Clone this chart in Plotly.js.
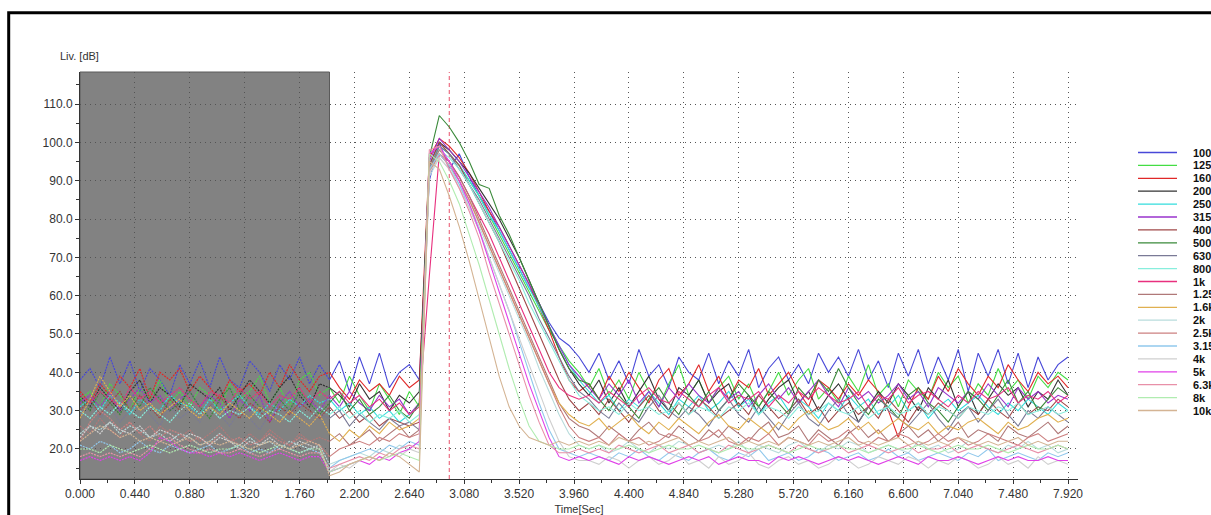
<!DOCTYPE html>
<html><head><meta charset="utf-8">
<script src="https://cdn.plot.ly/plotly-3.0.1.min.js"></script>
<style>html,body{margin:0;padding:0;background:#fff;overflow:hidden}#chart{width:1211px;height:515px}</style>
</head><body><div id="chart"></div>
<script>
const time = [0,0.08,0.16,0.24,0.32,0.40,0.48,0.56,0.64,0.72,0.80,0.88,0.96,1.04,1.12,1.20,1.28,1.36,1.44,1.52,1.60,1.68,1.76,1.84,1.92,
2.00,2.08,2.16,2.24,2.32,2.40,2.48,2.56,2.64,2.72,
2.80,2.88,2.96,3.04,3.12,3.20,3.28,3.36,3.44,3.52,3.60,3.68,3.76,3.84,3.92,4.00,
4.08,4.16,4.24,4.32,4.40,4.48,4.56,4.64,4.72,4.80,4.88,4.96,5.04,5.12,5.20,5.28,5.36,5.44,5.52,5.60,5.68,5.76,5.84,5.92,6.00,
6.08,6.16,6.24,6.32,6.40,6.48,6.56,6.64,6.72,6.80,6.88,6.96,7.04,7.12,7.20,7.28,7.36,7.44,7.52,7.60,7.68,7.76,7.84,7.92];

const bands = ["100","125","160","200","250","315","400","500","630","800","1k","1.25k","1.6k","2k","2.5k","3.15k","4k","5k","6.3k","8k","10k"];

const s100 = [38,41,36,44,37,43,35,41,38,34,42,37,43,36,44,38,36,43,40,35,42,38,44,37,42,
38,43,35,44,37,45,36,40,42,38,
90,100,93,97,91,86,82,77,72,67,62,58,53,49,47,44,
40,45,38,43,37,46,39,42,36,44,40,38,45,37,43,39,46,36,41,44,38,42,37,45,40,44,39,46,38,43,36,45,39,46,37,44,38,46,35,45,39,46,37,45,36,44,38,42,44];
const s125 = [33,35,31,37,34,30,36,33,38,32,35,31,36,34,30,37,33,35,39,32,36,31,38,40,34,
36,32,39,34,30,37,33,29,35,31,
93,99,97,94,90,86,81,76,71,66,61,56,51,47,43,40,
36,41,34,38,33,40,35,31,37,42,34,38,32,36,39,33,37,31,35,40,34,38,41,33,36,32,39,35,42,34,37,31,38,35,33,40,36,39,32,37,34,41,35,38,33,39,36,40,38];
const s160 = [35,32,37,34,39,36,41,33,40,38,41,35,39,36,33,38,35,37,34,40,36,42,38,35,39,
40,36,33,38,35,37,34,39,36,38,
96,101,99,96,92,87,82,78,73,68,63,57,51,44,38,35,
37,33,39,35,40,36,32,38,41,34,37,42,35,39,33,38,36,41,34,37,40,35,31,38,36,33,37,34,38,35,30,23,31,36,33,39,35,41,37,34,39,36,42,38,35,40,37,39,36];
const s200 = [34,31,36,33,30,35,38,32,36,34,31,37,35,33,36,30,34,38,35,32,36,39,34,31,37,
36,34,31,37,33,35,30,34,32,35,
94,100,98,95,92,88,84,80,75,70,64,58,52,46,41,37,
34,38,32,36,31,35,39,33,30,36,34,38,32,35,37,31,34,29,33,36,38,32,35,30,34,37,33,27,31,35,32,37,34,30,36,33,38,31,35,29,33,37,34,36,31,35,33,38,34];
const s250 = [31,33,30,34,32,29,33,31,30,34,32,31,29,33,30,32,34,31,29,32,30,33,31,34,32,
33,30,32,29,31,28,30,27,29,31,
93,99,97,94,90,86,81,77,72,67,62,57,52,47,42,38,
35,32,34,30,33,31,35,32,29,33,31,34,30,32,35,31,33,29,32,34,30,33,31,28,32,30,34,31,33,29,31,34,30,32,28,31,33,30,32,34,31,29,32,30,33,31,29,32,30];
const s315 = [32,34,31,35,30,33,36,32,34,30,33,35,31,34,32,28,33,30,34,27,32,35,31,33,30,
34,31,35,32,30,34,31,33,29,32,
95,101,98,95,91,87,83,78,73,68,63,58,52,47,42,39,
36,33,37,34,38,32,35,31,36,33,37,34,32,36,33,35,31,34,37,33,36,32,35,38,34,31,36,33,35,32,34,37,33,35,31,36,34,32,35,33,37,34,31,36,33,35,32,34,33];
const s400 = [30,33,29,32,35,30,34,31,28,33,30,32,29,31,34,30,28,32,30,27,31,29,32,30,28,
31,28,30,27,29,26,28,27,26,27,
94,100,97,94,89,84,79,74,68,62,56,50,44,38,33,30,
32,29,33,30,27,31,34,30,28,32,29,33,31,28,30,32,29,34,31,28,30,33,29,31,27,30,32,29,31,28,33,30,27,31,29,32,30,28,31,29,33,30,28,32,29,31,30,33,31];
const s500 = [33,30,35,32,29,34,31,36,33,30,32,35,31,28,33,36,30,34,31,29,33,30,35,32,29,
32,35,30,33,29,31,34,30,28,32,
96,107,104,100,95,89,88,81,76,70,64,58,52,46,41,38,
37,33,30,34,31,28,33,36,32,29,34,31,35,30,33,37,34,31,35,32,29,36,33,38,35,41,36,32,29,33,31,28,34,36,32,30,27,31,35,33,30,34,38,32,35,30,33,36,34];
const s630 = [29,32,28,31,27,30,33,29,26,31,28,30,27,32,29,26,30,28,25,29,27,31,28,26,29,
28,30,26,29,27,25,28,26,27,25,
93,99,97,93,89,85,80,75,70,65,60,54,49,44,39,35,
33,30,28,32,29,27,31,34,30,28,31,29,26,30,33,29,27,31,28,25,29,32,28,26,30,33,29,27,31,34,30,28,26,29,32,28,25,29,31,27,30,33,29,26,30,28,31,29,27];
const s800 = [30,28,31,29,32,30,28,31,29,27,30,32,29,31,28,30,29,31,28,30,29,27,30,28,31,
29,31,28,30,27,29,28,30,27,29,
92,98,96,93,89,84,79,74,69,64,58,53,48,43,38,34,
32,30,31,29,32,30,31,29,30,32,29,31,30,28,31,30,32,29,31,30,28,31,29,30,32,30,29,31,28,30,31,29,30,32,29,31,30,28,31,30,29,31,30,32,29,30,31,29,30];
const s1k = [34,32,35,33,31,36,33,35,32,34,36,33,31,35,34,32,36,33,35,31,34,33,36,32,35,
33,35,32,34,31,33,30,32,29,31,
65,97,95,91,86,81,76,70,64,58,52,46,40,36,34,33,
34,32,35,33,31,34,36,33,32,35,33,31,34,36,32,34,33,35,31,34,32,35,33,36,34,32,33,35,31,34,33,36,32,34,35,33,31,34,32,35,33,34,36,32,34,33,35,32,34];
const s1k25 = [26,24,28,25,23,27,24,22,26,24,23,25,22,24,26,23,21,24,22,25,23,21,24,22,23,
22,24,21,23,25,22,24,26,23,25,
93,98,95,91,86,80,74,68,62,56,50,44,38,32,28,26,
25,23,26,24,22,25,27,24,23,26,24,22,25,23,26,24,22,25,27,23,24,26,22,25,23,21,24,26,23,25,22,24,26,23,25,22,24,27,23,25,24,22,26,24,23,25,27,24,26];
const s1k6 = [28,33,39,35,31,34,30,32,29,31,33,30,28,31,29,32,30,28,31,29,27,30,28,26,29,
24,22,25,23,26,24,27,25,26,28,
92,97,94,90,85,79,73,67,61,55,49,43,37,32,29,27,
26,28,25,27,29,26,24,27,25,28,26,24,27,29,26,25,28,26,24,27,25,28,30,27,25,26,28,25,27,24,26,28,26,25,27,24,26,25,27,28,26,24,27,25,26,28,29,27,28];
const s2k = [24,26,25,27,24,26,25,23,24,22,24,23,21,22,24,22,21,23,21,22,20,22,21,20,21,
16,17,18,19,18,20,19,21,20,22,
91,96,93,89,84,78,72,66,60,54,48,41,35,29,24,21,
20,21,19,20,22,20,19,21,20,22,21,19,20,21,20,22,19,21,20,19,21,22,20,19,21,20,22,21,19,20,21,20,19,22,20,21,19,20,22,21,20,19,21,20,22,20,21,19,20];
const s2k5 = [22,27,30,28,25,27,24,26,23,25,24,22,23,21,24,22,23,21,22,24,22,21,23,22,21,
18,20,21,22,21,23,22,24,23,24,
92,97,94,90,85,79,73,67,61,55,49,43,37,31,26,23,
22,23,21,24,22,23,21,22,24,23,21,22,23,25,22,21,23,22,24,21,23,22,21,24,22,23,25,22,21,23,22,24,23,21,22,24,22,23,21,22,24,23,22,21,23,24,22,23,24];
const s3k15 = [21,20,22,21,19,20,22,20,19,21,20,19,20,21,19,20,21,19,20,19,21,20,19,20,19,
15,17,18,19,20,19,21,20,22,21,
93,97,94,89,83,77,70,63,56,48,40,32,25,20,19,18,
19,18,17,19,18,20,18,17,19,18,17,19,20,18,17,19,18,20,17,18,19,17,18,20,19,17,18,19,17,18,20,18,19,17,18,19,18,17,19,18,20,17,18,19,18,17,19,18,19];
const s4k = [23,26,24,27,25,24,26,23,25,24,22,24,23,21,23,22,20,22,21,23,21,20,22,21,20,
14,16,15,17,18,17,19,18,20,19,
92,96,93,88,83,77,70,63,56,49,42,35,28,22,18,17,
17,16,18,17,15,17,18,16,17,19,16,17,15,18,16,17,19,16,15,17,18,16,17,15,16,18,17,15,16,18,17,16,18,17,15,17,16,18,17,15,16,18,16,17,15,18,16,17,16];
const s5k = [17,18,17,18,17,18,17,19,23,22,20,19,19,18,19,18,19,18,17,18,19,18,17,18,18,
14,15,16,17,16,18,17,19,20,22,
97,99,95,90,84,77,69,61,53,45,37,30,23,18,17,18,
17,18,17,16,18,17,18,17,16,17,18,17,18,16,17,18,17,17,16,18,17,18,17,16,17,18,17,18,17,16,17,18,17,16,18,17,17,18,17,16,17,18,17,18,17,17,18,17,17];
const s6k3 = [18,19,18,19,18,19,18,20,22,23,21,20,19,20,19,19,20,19,18,19,20,19,18,19,19,
15,16,17,18,17,19,18,20,21,20,
98,99,93,88,82,75,66,58,50,42,34,27,21,19,19,20,
19,20,19,21,20,19,20,21,19,20,21,19,20,19,21,20,19,20,21,20,19,21,20,19,20,21,19,20,21,20,19,20,21,19,20,20,21,19,20,21,20,19,20,21,20,19,20,21,20];
const s8k = [20,20,19,21,20,19,20,21,20,19,20,21,20,19,20,20,21,20,19,20,21,20,19,20,20,
14,15,16,17,18,17,18,19,18,17,
97,95,90,84,76,68,59,50,41,33,26,22,21,20,20,21,
20,21,20,20,21,20,19,20,21,20,20,21,20,19,20,21,20,20,21,20,19,20,21,20,20,21,20,20,19,20,21,20,20,21,20,19,20,21,20,20,21,20,19,20,21,20,20,21,20];
const s10k = [22,24,26,25,23,24,22,23,22,21,22,23,21,22,21,22,21,20,21,22,21,20,21,22,21,
13,14,16,17,18,17,19,18,16,14,
95,93,86,78,69,59,49,39,31,26,23,22,21,22,21,22,
21,22,21,23,22,21,22,21,22,23,21,22,21,22,23,21,22,21,22,21,23,22,21,22,21,22,23,21,22,21,22,23,21,22,21,22,21,23,22,21,22,21,22,23,21,22,21,22,22];

const seriesValues = [s100,s125,s160,s200,s250,s315,s400,s500,s630,s800,s1k,s1k25,s1k6,s2k,s2k5,s3k15,s4k,s5k,s6k3,s8k,s10k];

const colors = ["#4848d8","#44dd44","#e02828","#333333","#33dddd","#9933cc","#a04848","#3a8a3a","#7a7a96","#88eedd","#e8307e","#b07878","#e0b050","#b8dcdc","#cc8080","#90c8ec","#cfcfcf","#e040e8","#e890a8","#b0ecb0","#d4b494"];

const shadeEnd = 2.0;      // end of the shaded (excluded) time window
const markerTime = 2.96;   // red dashed marker
const splitIdx = 25;       // index of time 2.00

const traces = [];
seriesValues.forEach((vals, i) => {
  traces.push({x: time.slice(0, splitIdx + 1), y: vals.slice(0, splitIdx + 1), mode: 'lines', name: bands[i],
    line: {color: colors[i], width: 1.2, dash: '2px,1px'}, showlegend: false, hoverinfo: 'skip'});
  traces.push({x: time.slice(splitIdx), y: vals.slice(splitIdx), mode: 'lines', name: bands[i],
    line: {color: colors[i], width: 1.1}, showlegend: false});
});

// plot geometry (px) for paper-coordinate helpers
const L = 80, T = 72, W = 998, H = 407;
const px = v => (v - L) / W;
const py = v => (T + H - v) / H;

const shapes = [
  {type: 'rect', xref: 'x', yref: 'paper', x0: 0, x1: shadeEnd, y0: 0, y1: 1, fillcolor: '#828282', line: {color: '#5a5a5a', width: 1}, layer: 'between'},
  {type: 'line', xref: 'x', yref: 'paper', x0: markerTime, x1: markerTime, y0: 0, y1: 1, line: {color: '#e8506a', width: 1, dash: '4px,3px'}, layer: 'between'},
  {type: 'rect', xref: 'paper', yref: 'paper', x0: px(8.7), x1: px(1260), y0: py(560), y1: py(12.7), line: {color: '#000', width: 3}, fillcolor: 'rgba(0,0,0,0)', layer: 'above'}
];
const annotations = [
  {xref: 'paper', yref: 'paper', x: px(58), y: py(56), xanchor: 'left', yanchor: 'middle', text: 'Liv. [dB]', showarrow: false, font: {size: 11, color: '#333'}}
];
bands.forEach((b, i) => {
  const yy = py(152.5 + 12.9 * i);
  shapes.push({type: 'line', xref: 'paper', yref: 'paper', x0: px(1138), x1: px(1177), y0: yy, y1: yy, line: {color: colors[i], width: 1.3}});
  annotations.push({xref: 'paper', yref: 'paper', x: px(1191), y: yy, xanchor: 'left', yanchor: 'middle', text: b, showarrow: false,
    font: {size: 11, color: '#111', weight: 'bold'}});
});

const layout = {
  width: 1211, height: 515,
  margin: {l: L, r: 1211 - L - W, t: T, b: 515 - T - H},
  paper_bgcolor: '#fff', plot_bgcolor: '#fff',
  showlegend: false,
  font: {family: '"Liberation Sans", Arial, sans-serif', size: 12, color: '#333'},
  xaxis: {
    range: [0, 8.0], tick0: 0, dtick: 0.44, tickformat: '.3f',
    showgrid: true, gridcolor: '#555', griddash: '1px,4px', gridwidth: 1,
    zeroline: false, showline: true, linecolor: '#333', linewidth: 1,
    ticks: 'outside', ticklen: 4, tickcolor: '#333', tickfont: {size: 12, color: '#333'},
    minor: {dtick: 0.22, ticks: 'outside', ticklen: 3, tickcolor: '#333', showgrid: false},
    title: {text: 'Time[Sec]', font: {size: 11, color: '#333'}, standoff: 4},
    automargin: false
  },
  yaxis: {
    range: [12.17, 118.35], tick0: 0, dtick: 10, tickformat: '.1f',
    showgrid: true, gridcolor: '#555', griddash: '1px,4px', gridwidth: 1,
    zeroline: false, showline: true, linecolor: '#333', linewidth: 1,
    ticks: 'outside', ticklen: 4, tickcolor: '#333', tickfont: {size: 12, color: '#333'},
    minor: {dtick: 5, ticks: 'outside', ticklen: 3, tickcolor: '#333', showgrid: false},
    automargin: false
  },
  shapes: shapes,
  annotations: annotations
};

Plotly.newPlot('chart', traces, layout, {displayModeBar: false, staticPlot: true});
</script>
</body></html>
